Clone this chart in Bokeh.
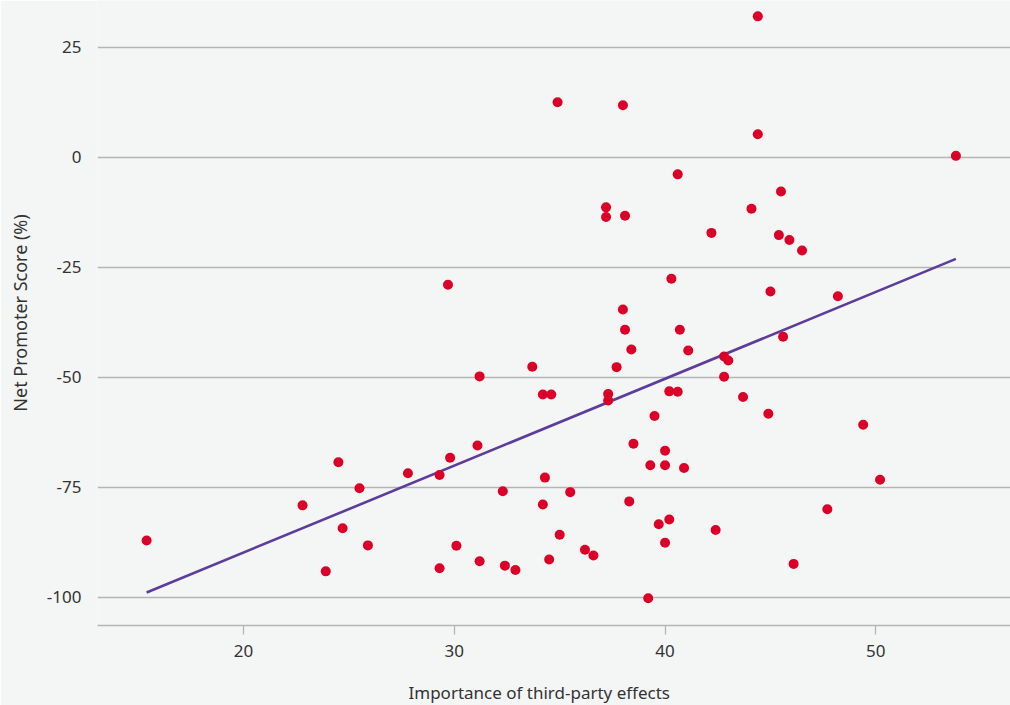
from bokeh.plotting import figure
from bokeh.models import Range1d, FixedTicker, Title, LinearAxis
from bokeh.embed import file_html
from bokeh.resources import INLINE

# Importance of third-party effects (x) vs Net Promoter Score % (y)
importance = [15.4, 22.8, 23.9, 24.5, 24.7, 25.5, 25.9, 27.8, 29.3, 29.3,
              29.7, 29.8, 30.1, 31.1, 31.2, 31.2, 32.3, 32.4, 32.9, 33.7,
              34.2, 34.6, 34.3, 34.2, 34.5, 34.9, 35.0, 35.5, 36.2, 36.6,
              37.2, 37.2, 37.3, 37.3, 37.7, 38.0, 38.0, 38.1, 38.1, 38.4,
              38.3, 38.5, 39.2, 39.3, 39.5, 39.7, 40.0, 40.0, 40.0, 40.2,
              40.2, 40.3, 40.6, 40.6, 40.7, 40.9, 41.1, 42.2, 42.4, 42.8,
              43.0, 42.8, 43.7, 44.1, 44.4, 44.4, 45.0, 44.9, 45.5, 45.4,
              45.6, 45.9, 46.1, 46.5, 47.7, 48.2, 49.4, 50.2, 53.8]
nps = [-87.1, -79.1, -94.1, -69.3, -84.3, -75.2, -88.2, -71.8, -93.4, -72.2,
       -29.0, -68.3, -88.3, -65.5, -49.8, -91.8, -75.9, -92.8, -93.8, -47.6,
       -53.9, -53.9, -72.8, -78.9, -91.4, 12.5, -85.8, -76.1, -89.2, -90.5,
       -11.4, -13.6, -53.8, -55.3, -47.7, -34.6, 11.8, -39.2, -13.3, -43.7,
       -78.2, -65.1, -100.2, -70.0, -58.8, -83.4, -66.7, -70.0, -87.6, -82.3,
       -53.2, -27.6, -53.3, -3.9, -39.2, -70.6, -43.9, -17.2, -84.7, -45.3,
       -46.2, -49.9, -54.5, -11.7, 32.0, 5.2, -30.5, -58.3, -7.8, -17.7,
       -40.8, -18.8, -92.4, -21.2, -80.0, -31.6, -60.8, -73.3, 0.3]

# trend line end points
trend_x = [15.4, 53.8]
trend_y = [-98.9, -23.1]

x_ticks = [20, 30, 40, 50]
y_ticks = [-100, -75, -50, -25, 0, 25]
y_tick_labels = ["-100", "-75", "-50", "-25", "0", "25"]

x_title = "Importance of third-party effects"
y_title = "Net Promoter Score (%)"

BG = "#f4f6f6"
FONT = "Noto Sans"
TXT = "#333333"
GRID = "#b5b5b5"

p = figure(width=1010, height=705, output_backend="svg", toolbar_location=None,
           x_range=Range1d(13.07, 56.39), y_range=Range1d(-106.4, 35.6),
           min_border_left=97, min_border_right=0, min_border_top=0,
           min_border_bottom=80)
p.background_fill_color = BG
p.border_fill_color = BG
p.outline_line_color = None

p.xgrid.grid_line_color = None
p.ygrid.grid_line_color = GRID
p.ygrid.grid_line_width = 1.3

p.xaxis.ticker = FixedTicker(ticks=x_ticks)
p.yaxis.ticker = FixedTicker(ticks=y_ticks)
p.yaxis.major_label_overrides = dict(zip(y_ticks, y_tick_labels))

for ax in (p.xaxis, p.yaxis):
    ax.major_label_text_font = FONT
    ax.major_label_text_font_size = "17px"
    ax.major_label_text_color = TXT
    ax.minor_tick_line_color = None
    ax.axis_label_text_font = FONT
    ax.axis_label_text_font_size = "18px"
    ax.axis_label_text_font_style = "normal"
    ax.axis_label_text_color = TXT

p.xaxis.axis_line_color = GRID
p.xaxis.axis_line_width = 1.3
p.xaxis.major_tick_line_color = GRID
p.xaxis.major_tick_line_width = 1.3
p.xaxis.major_tick_in = 0
p.xaxis.major_tick_out = 9
p.xaxis.major_label_standoff = 10

p.yaxis.axis_line_color = None
p.yaxis.major_tick_line_color = None
p.yaxis.major_label_standoff = 10
p.yaxis.axis_label = y_title
p.yaxis.axis_label_standoff = 12

p.line(trend_x, trend_y, line_color="#5c3d99", line_width=2.6)
p.scatter(importance, nps, size=10, fill_color="#dc0028", line_color="#dc0028",
          line_width=0)

# invisible spacer between the x axis and the x title
spacer = LinearAxis(ticker=FixedTicker(ticks=[x_ticks[0]]), axis_line_color=None,
                    major_tick_line_color=None, minor_tick_line_color=None,
                    major_tick_in=0, major_tick_out=19, major_label_standoff=0,
                    major_label_overrides={x_ticks[0]: ""},
                    major_label_text_font_size="1px")
p.add_layout(spacer, "below")

p.add_layout(Title(text=x_title, align="left", offset=311, standoff=0,
                   text_font=FONT, text_font_size="17px", text_font_style="normal",
                   text_color=TXT), "below")

html = file_html(p, INLINE)
html = html.replace("<body>", '<body style="background:%s;">' % BG, 1)
open("out.html", "w").write(html)
